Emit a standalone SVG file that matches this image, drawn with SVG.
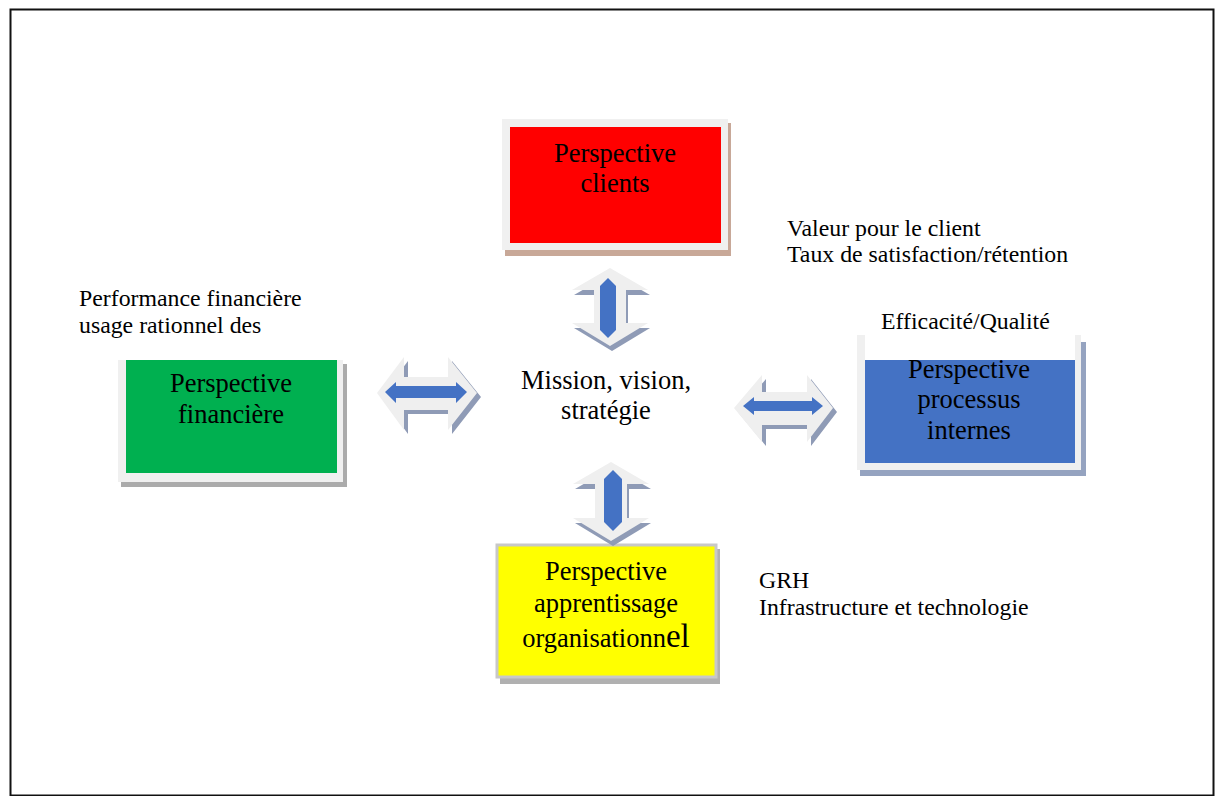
<svg xmlns="http://www.w3.org/2000/svg" width="1215" height="796" viewBox="0 0 1215 796">
<style>
text{font-family:"Liberation Serif","Times New Roman",serif;fill:#000}
.bt{font-size:26.5px;text-anchor:middle}
.an{font-size:23.8px}
.frame{fill:#f0f0f0}
.arw{fill:#efefef}
.ash{fill:#8f9bb6}
.blue{fill:#4472c4}
</style>
<rect x="0" y="0" width="1215" height="796" fill="#fff"/>
<rect x="10.5" y="9.5" width="1203" height="786" fill="none" stroke="#111" stroke-width="2"/>

<g id="node-clients">
<rect x="505" y="123" width="226" height="133" fill="#c8a898"/>
<rect class="frame" x="502" y="119" width="226" height="131"/>
<rect x="510" y="127" width="211" height="116" fill="#ff0000"/>
<text class="bt" x="615" y="162">Perspective</text>
<text class="bt" x="615" y="192">clients</text>
</g>

<g id="node-financiere">
<rect x="121" y="364" width="226" height="123" fill="#ababab"/>
<rect class="frame" x="118" y="360" width="225" height="122"/>
<rect x="126" y="360" width="211" height="113" fill="#00b050"/>
<text class="bt" x="231" y="392">Perspective</text>
<text class="bt" x="231" y="423">financière</text>
</g>

<g id="node-processus">
<rect x="860" y="342" width="226" height="134" fill="#95a3c0"/>
<rect class="frame" x="857" y="335" width="224" height="135"/>
<rect x="865" y="335" width="210" height="25" fill="#fff"/>
<rect x="865" y="360" width="210" height="103" fill="#4472c4"/>
<text class="bt" x="969" y="378">Perspective</text>
<text class="bt" x="969" y="408">processus</text>
<text class="bt" x="969" y="439">internes</text>
</g>

<g id="node-apprentissage">
<rect x="500" y="549" width="220" height="135" fill="#b0b0b0"/>
<rect x="497" y="545" width="219" height="132" fill="#ffff00" stroke="#c8c8c8" stroke-width="3"/>
<text class="bt" x="606" y="580">Perspective</text>
<text class="bt" x="606" y="612">apprentissage</text>
<text class="bt" x="606" y="647">organisationn<tspan font-size="33">el</tspan></text>
</g>

<g id="node-mission">
<text class="bt" x="606" y="389">Mission, vision,</text>
<text class="bt" x="606" y="419">stratégie</text>
</g>

<g id="connectors">
<g id="arrow-top">
<polygon class="ash" transform="translate(2,5)" points="610,268 648,290 626,290 626,323 648,323 610,346 572,323 594,323 594,290 572,290"/>
<polygon class="arw" points="610,268 648,290 626,290 626,323 648,323 610,346 572,323 594,323 594,290 572,290"/>
<polygon class="blue" points="608,278 616,286 616,330 608,338 600,330 600,286"/>
</g>
<g id="arrow-bottom">
<polygon class="ash" transform="translate(2,5)" points="611,462 649,484 627,484 627,518 649,518 611,541 573,518 595,518 595,484 573,484"/>
<polygon class="arw" points="611,462 649,484 627,484 627,518 649,518 611,541 573,518 595,518 595,484 573,484"/>
<polygon class="blue" points="613,470 622,479 622,522 613,531 604,522 604,479"/>
</g>
<g id="arrow-left">
<polygon class="ash" transform="translate(4,4)" points="377,393 404,357 404,377 448,377 448,357 477,393 448,430 448,410 404,410 404,430"/>
<polygon class="arw" points="377,393 404,357 404,377 448,377 448,357 477,393 448,430 448,410 404,410 404,430"/>
<polygon class="blue" points="385,392 396,382 396,386 456,386 456,382 467,392 456,403 456,398 396,398 396,403"/>
</g>
<g id="arrow-right">
<polygon class="ash" transform="translate(4,4)" points="734,408 762,375 762,392 807,392 807,375 833,408 807,442 807,425 762,425 762,442"/>
<polygon class="arw" points="734,408 762,375 762,392 807,392 807,375 833,408 807,442 807,425 762,425 762,442"/>
<polygon class="blue" points="743,406 754,397 754,401 812,401 812,397 823,406 812,415 812,411 754,411 754,415"/>
</g>
</g>

<g id="annotations">
<text class="an" x="787" y="236">Valeur pour le client</text>
<text class="an" x="787" y="262">Taux de satisfaction/rétention</text>
<text class="an" x="79" y="306">Performance financière</text>
<text class="an" x="79" y="333">usage rationnel des</text>
<text class="an" x="881" y="329">Efficacité/Qualité</text>
<text class="an" x="759" y="588">GRH</text>
<text class="an" x="759" y="615">Infrastructure et technologie</text>
</g>
</svg>
